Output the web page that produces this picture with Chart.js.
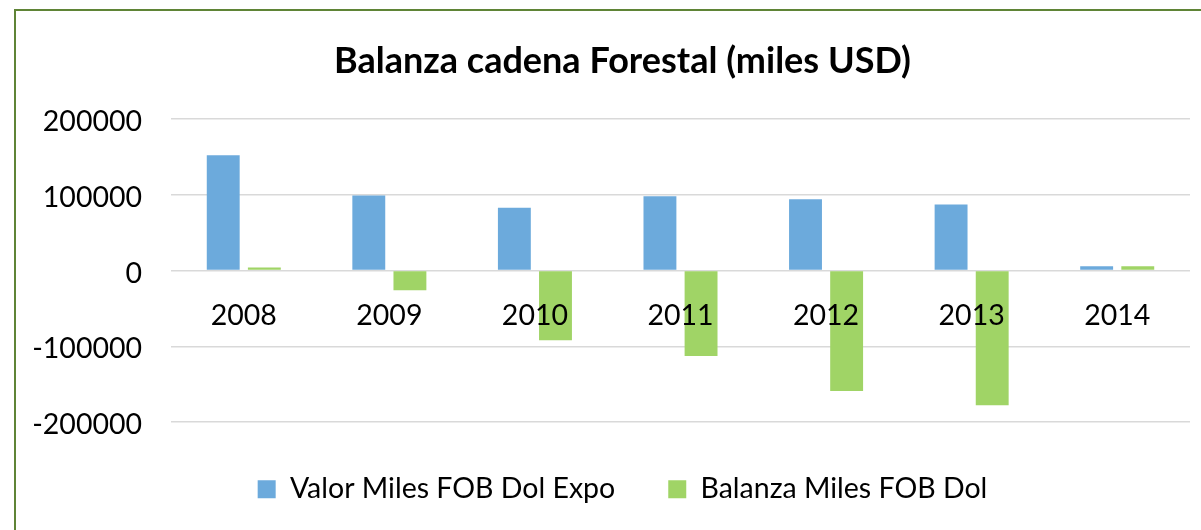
<!DOCTYPE html>
<html>
<head>
<meta charset="utf-8">
<script src="https://cdn.jsdelivr.net/npm/chart.js@4/dist/chart.umd.min.js"></script>
<style>
  html, body { margin: 0; padding: 0; background: #fff; overflow: hidden; }
  #wrap { position: relative; width: 1201px; height: 530px; }
  #frame { position: absolute; left: 14px; top: 9px; width: 1300px; height: 700px; border: 2px solid #5f8436; box-sizing: border-box; pointer-events: none; }
  canvas { position: absolute; left: 0; top: 0; }
</style>
</head>
<body>
<div id="wrap">
  <canvas id="c" width="1201" height="530"></canvas>
  <div id="frame"></div>
</div>
<script>
const categories = ['2008', '2009', '2010', '2011', '2012', '2013', '2014'];
const seriesNames = ['Valor Miles FOB Dol Expo', 'Balanza Miles FOB Dol'];
const valorExpo = [152000, 99000, 83000, 98000, 94000, 87000, 5500];
const balanza = [4000, -26000, -92000, -113000, -159000, -178000, 5500];
const yTicks = [-200000, -100000, 0, 100000, 200000];
const titleText = 'Balanza cadena Forestal (miles USD)';

const FONT = 'Lato';

new Chart(document.getElementById('c'), {
  type: 'bar',
  data: {
    labels: categories,
    datasets: [
      { label: seriesNames[0], data: valorExpo, backgroundColor: '#6caadc', xAxisID: 'x', yAxisID: 'y',
        categoryPercentage: 0.565, barPercentage: 0.8 },
      { label: seriesNames[1], data: balanza, backgroundColor: '#a0d466', xAxisID: 'x', yAxisID: 'y',
        categoryPercentage: 0.565, barPercentage: 0.8 }
    ]
  },
  options: {
    responsive: false,
    animation: false,
    layout: { padding: { left: 0, right: -44, top: 0, bottom: 16.5 } },
    plugins: {
      tooltip: { enabled: false },
      title: {
        display: true, text: titleText, color: '#000',
        font: { family: FONT, size: 36, weight: 'bold' },
        padding: { top: 39.5, bottom: 36.3 }
      },
      legend: {
        position: 'bottom',
        labels: {
          color: '#000', font: { family: FONT, size: 28.5 },
          boxWidth: 18, boxHeight: 18, padding: 53
        }
      }
    },
    scales: {
      x: {
        type: 'category',
        position: { y: 0 },
        grid: { display: false },
        border: { display: false },
        ticks: { z: 1, color: '#000', font: { family: FONT, size: 28.5 }, padding: 20, maxRotation: 0 }
      },
      y: {
        position: 'left',
        min: -200000, max: 200000,
        grid: { color: '#d9d9d9', lineWidth: 1.5, drawTicks: false },
        border: { display: false },
        afterBuildTicks: s => { s.ticks = yTicks.map(v => ({ value: v })); },
        afterFit: s => { s.width = 171; },
        ticks: {
          color: '#000', font: { family: FONT, size: 28.5 }, padding: 29, labelOffset: 3,
          callback: v => String(v)
        }
      },
      yr: {
        type: 'linear', position: 'right',
        grid: { display: false }, border: { display: false },
        ticks: { display: false },
        afterFit: s => { s.width = 55; }
      }
    }
  }
});
</script>
</body>
</html>
